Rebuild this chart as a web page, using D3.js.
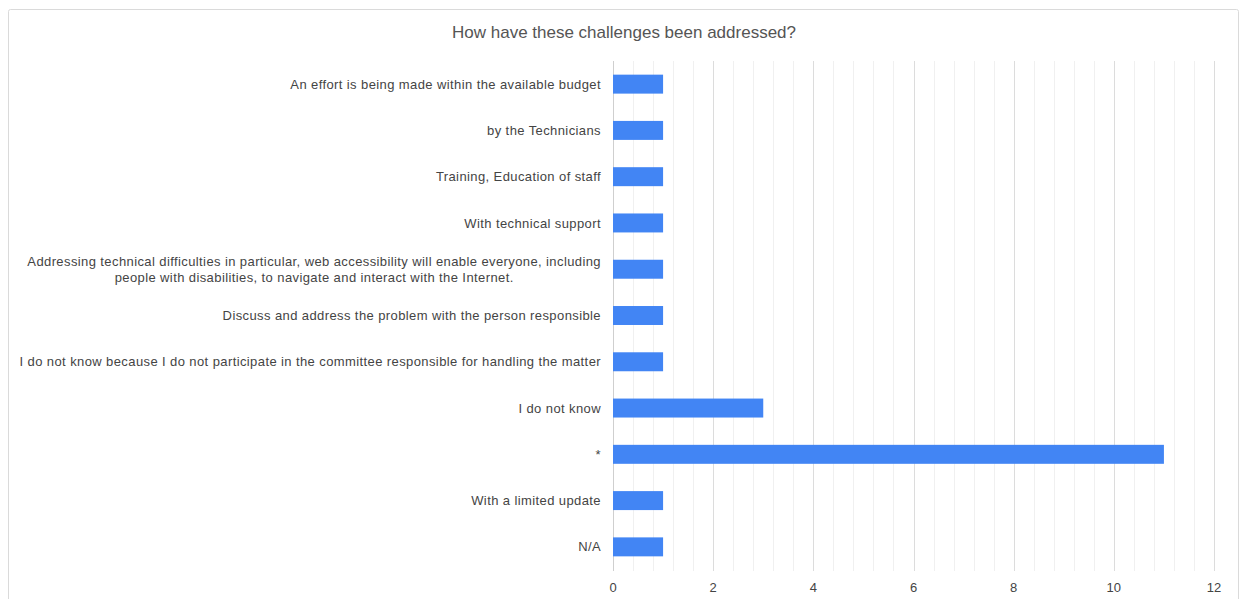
<!DOCTYPE html>
<html>
<head>
<meta charset="utf-8">
<script src="https://cdn.jsdelivr.net/npm/d3@7"></script>
<style>
  html, body { margin: 0; padding: 0; background: #fff; }
  svg { display: block; font-family: "Liberation Sans", Arial, sans-serif; }
</style>
</head>
<body>
<svg id="chart" width="1243" height="599"></svg>
<script>
// Survey responses: how the reported challenges have been addressed
const categories = [
  "An effort is being made within the available budget",
  "by the Technicians",
  "Training, Education of staff",
  "With technical support",
  "Addressing technical difficulties in particular, web accessibility will enable everyone, including\npeople with disabilities, to navigate and interact with the Internet.",
  "Discuss and address the problem with the person responsible",
  "I do not know because I do not participate in the committee responsible for handling the matter",
  "I do not know",
  "*",
  "With a limited update",
  "N/A"
];
const counts = [1, 1, 1, 1, 1, 1, 1, 3, 11, 1, 1];
const xTicks = [0, 2, 4, 6, 8, 10, 12];
const title = "How have these challenges been addressed?";

const svg = d3.select("#chart");

// card frame
svg.append("rect")
  .attr("x", 8.5).attr("y", 9.5)
  .attr("width", 1230).attr("height", 610)
  .attr("rx", 2)
  .attr("fill", "#fff")
  .attr("stroke", "#dadada");

const x = d3.scaleLinear().domain([0, 12]).range([613, 1214]);
const y = d3.scaleBand().domain(categories).range([61, 570]).paddingInner(0.59).paddingOuter(0.295);

// minor gridlines every 0.4
const minor = d3.range(0, 12.0001, 0.4).filter(v => Math.abs(v / 2 - Math.round(v / 2)) > 1e-6);
svg.append("g").selectAll("line").data(minor).join("line")
  .attr("x1", d => Math.round(x(d)) + 0.5).attr("x2", d => Math.round(x(d)) + 0.5)
  .attr("y1", 61).attr("y2", 571)
  .attr("stroke", "#f0f0f0").attr("stroke-width", 1);

// major gridlines
svg.append("g").selectAll("line").data(xTicks).join("line")
  .attr("x1", d => Math.round(x(d)) + 0.5).attr("x2", d => Math.round(x(d)) + 0.5)
  .attr("y1", 61).attr("y2", 571)
  .attr("stroke", d => d === 0 ? "#cfcfcf" : "#dcdcdc").attr("stroke-width", 1);

// bars
svg.append("g").selectAll("rect").data(categories).join("rect")
  .attr("x", x(0))
  .attr("y", d => y(d))
  .attr("width", (d, i) => x(counts[i]) - x(0))
  .attr("height", y.bandwidth())
  .attr("fill", "#4285f4");

// category labels
const labels = svg.append("g").selectAll("text").data(categories).join("text")
  .attr("text-anchor", "end")
  .attr("font-size", 13)
  .attr("letter-spacing", 0.4)
  .attr("fill", "#444");
labels.each(function (d) {
  const lines = d.split("\n");
  const t = d3.select(this);
  const cy = y(d) + y.bandwidth() / 2;
  if (lines.length === 1) {
    t.attr("x", 601).attr("y", cy).attr("dy", "0.35em").text(d);
  } else {
    // two-line label: centered block, right edge at the axis gap
    lines.forEach((ln, i) => {
      t.append("tspan").attr("y", cy + (i - 0.5) * 16).attr("dy", "0.35em").text(ln);
    });
    const tsp = t.selectAll("tspan").nodes();
    const maxW = Math.max(...tsp.map(n => n.getComputedTextLength()));
    const center = 601 - maxW / 2;
    t.attr("text-anchor", "middle");
    tsp.forEach(n => d3.select(n).attr("x", center));
  }
});

// x-axis tick labels
svg.append("g").selectAll("text").data(xTicks).join("text")
  .attr("x", d => x(d))
  .attr("y", 587)
  .attr("dy", "0.35em")
  .attr("text-anchor", "middle")
  .attr("font-size", 13)
  .attr("fill", "#444")
  .text(d => d);

// title
svg.append("text")
  .attr("x", 624).attr("y", 32)
  .attr("dy", "0.35em")
  .attr("text-anchor", "middle")
  .attr("font-size", 17)
  .attr("fill", "#555")
  .text(title);
</script>
</body>
</html>
